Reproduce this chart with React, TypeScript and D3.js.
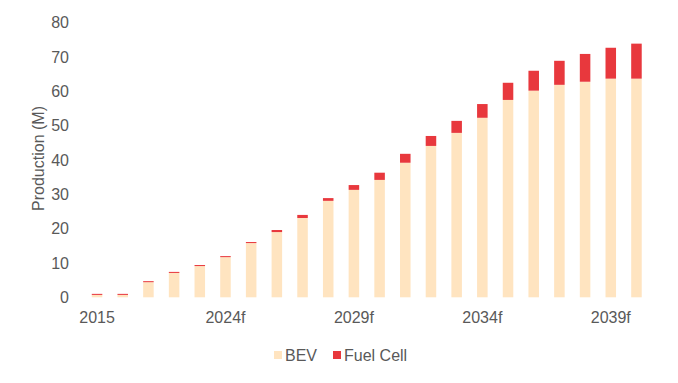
import React from "react";
import * as d3 from "d3";

const categories = [
  "2015", "2020", "2021", "2022", "2023", "2024f", "2025f", "2026f", "2027f", "2028f", "2029f",
  "2030f", "2031f", "2032f", "2033f", "2034f", "2035f", "2036f", "2037f", "2038f", "2039f", "2040f",
];
const shownLabels = ["2015", "2024f", "2029f", "2034f", "2039f"];
const bev = [0.7, 0.7, 4.4, 7.1, 9.1, 11.7, 15.8, 19.0, 23.1, 28.1, 31.3, 34.2, 39.2, 44.1, 47.9, 52.3, 57.5, 60.2, 61.9, 62.8, 63.7, 63.7];
const fuelCell = [0.3, 0.3, 0.3, 0.3, 0.3, 0.3, 0.3, 0.6, 0.9, 0.8, 1.4, 2.1, 2.6, 2.9, 3.5, 4.0, 5.0, 5.8, 7.0, 8.1, 9.0, 10.2];
const yTicks = [0, 10, 20, 30, 40, 50, 60, 70, 80];
const seriesNames = ["BEV", "Fuel Cell"];
const colors = ["#FFE4C0", "#E8383D"];

export default function App() {
  const W = 678, H = 383;
  const x = d3.scaleBand<string>().domain(categories).range([84.2, 649.3]).paddingInner(0.59).paddingOuter(0.295);
  const y = d3.scaleLinear().domain([0, 80]).range([297.3, 22.7]);
  const font = "'Liberation Sans', Arial, sans-serif";
  const textColor = "#595959";
  const fs = 16;
  const data = categories.map((c, i) => ({ c, BEV: bev[i], "Fuel Cell": fuelCell[i] }));
  const stacked = d3.stack<any>().keys(seriesNames)(data);

  return (
    <svg width={W} height={H} style={{ position: "absolute", left: 0, top: 0 }} fontFamily={font}>
      <rect width={W} height={H} fill="#fff" />
      {stacked.map((s, si) => (
        <g key={si} fill={colors[si]}>
          {s.map((d, i) => (
            <rect key={i} x={x(categories[i])} width={x.bandwidth()} y={y(d[1])} height={y(d[0]) - y(d[1])} />
          ))}
        </g>
      ))}
      {yTicks.map((t) => (
        <text key={t} x={69} y={y(t)} dy="0.35em" textAnchor="end" fontSize={fs} fill={textColor}>{t}</text>
      ))}
      {categories.map((c) =>
        shownLabels.includes(c) ? (
          <text key={c} x={(x(c) as number) + x.bandwidth() / 2} y={323} textAnchor="middle" fontSize={fs} fill={textColor}>{c}</text>
        ) : null
      )}
      <text transform={`translate(44,158.5) rotate(-90)`} textAnchor="middle" fontSize={fs} fill={textColor}>Production (M)</text>
      <g>
        <rect x={274} y={351} width={8} height={8} fill={colors[0]} />
        <text x={285} y={361} fontSize={fs} fill={textColor}>BEV</text>
        <rect x={333} y={351} width={8} height={8} fill={colors[1]} />
        <text x={344} y={361} fontSize={fs} fill={textColor}>Fuel Cell</text>
      </g>
    </svg>
  );
}
